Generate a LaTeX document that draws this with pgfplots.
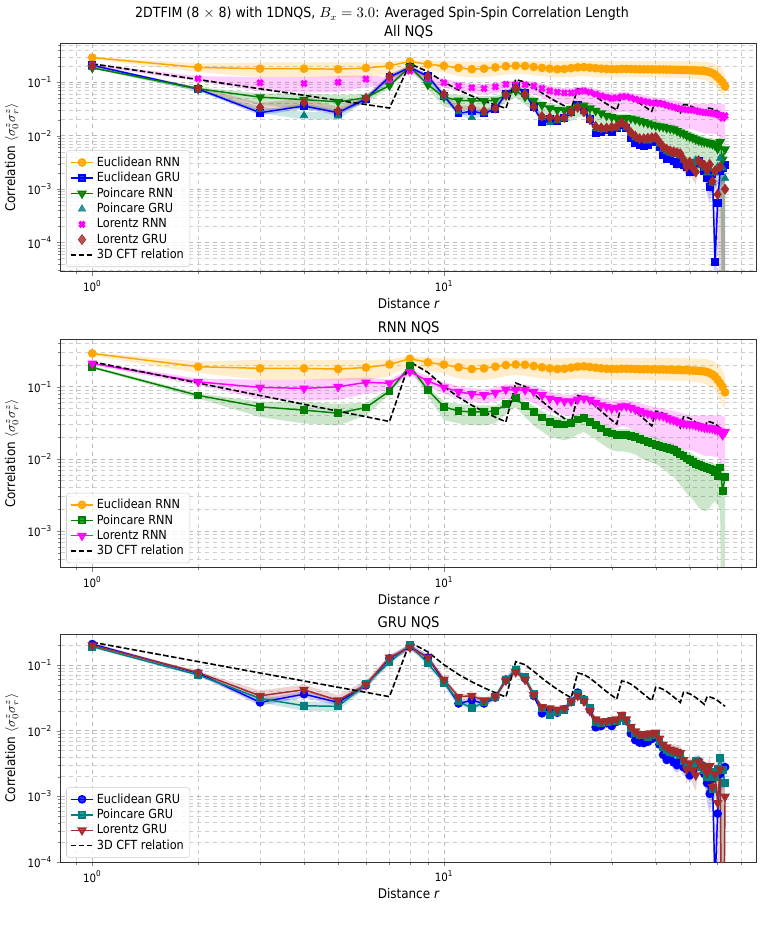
\documentclass[border=0pt]{standalone}
\usepackage{fontspec}
\setmainfont{DejaVu Sans Condensed}
\usepackage{pgfplots}
\usepackage{pgfplotstable}
\usepgfplotslibrary{fillbetween}
\pgfplotsset{compat=1.18}

\definecolor{cOrange}{HTML}{FFA500}
\definecolor{cBlue}{HTML}{0000FF}
\definecolor{cGreen}{HTML}{008000}
\definecolor{cTeal}{HTML}{008080}
\definecolor{cMagenta}{HTML}{FF00FF}
\definecolor{cBrown}{HTML}{A52A2A}

% columns: distance r, mean correlation, lower and upper edge of the spread
\pgfplotstableread{
r m lo hi
1 0.29 0.27 0.30
2 0.19 0.155 0.225
3 0.18 0.125 0.235
4 0.18 0.125 0.235
5 0.176 0.122 0.235
6 0.185 0.125 0.235
7 0.204 0.14 0.24
8 0.245 0.20 0.265
9 0.218 0.165 0.255
10 0.203 0.153 0.25
11 0.186 0.13 0.245
12 0.176 0.124 0.243
13 0.18 0.124 0.245
14 0.19 0.13 0.248
15 0.20 0.14 0.25
16 0.204 0.145 0.252
17 0.202 0.142 0.252
18 0.194 0.135 0.25
19 0.186 0.13 0.25
20 0.18 0.126 0.248
21 0.176 0.124 0.247
22 0.178 0.124 0.248
23 0.184 0.127 0.25
24 0.19 0.13 0.252
25 0.192 0.13 0.252
26 0.188 0.128 0.25
27 0.184 0.126 0.25
28 0.18 0.125 0.25
29 0.178 0.124 0.25
30 0.176 0.124 0.25
31 0.176 0.124 0.25
32 0.178 0.125 0.25
33 0.178 0.125 0.25
34 0.177 0.124 0.25
35 0.176 0.124 0.25
36 0.175 0.124 0.25
37 0.175 0.124 0.25
38 0.175 0.124 0.25
39 0.174 0.123 0.25
40 0.174 0.123 0.25
41 0.174 0.123 0.25
42 0.174 0.123 0.25
43 0.173 0.122 0.25
44 0.173 0.122 0.25
45 0.172 0.122 0.25
46 0.172 0.121 0.25
47 0.171 0.121 0.249
48 0.170 0.12 0.249
49 0.170 0.12 0.248
50 0.169 0.119 0.248
51 0.168 0.118 0.247
52 0.167 0.117 0.246
53 0.166 0.115 0.245
54 0.165 0.113 0.244
55 0.163 0.11 0.243
56 0.16 0.106 0.24
57 0.155 0.10 0.236
58 0.148 0.095 0.23
59 0.138 0.088 0.22
60 0.125 0.077 0.205
61 0.112 0.066 0.19
62 0.10 0.056 0.17
63 0.0836 0.048 0.138
}\eucRNN

\pgfplotstableread{
r m lo hi
1 0.186 0.18 0.195
2 0.0758 0.069 0.081
3 0.0527 0.038 0.062
4 0.0474 0.031 0.062
5 0.043 0.029 0.058
6 0.0516 0.04 0.06
7 0.087 0.078 0.095
8 0.194 0.18 0.205
9 0.09 0.075 0.10
10 0.0527 0.0345 0.062
11 0.0459 0.031 0.058
12 0.0449 0.0293 0.0556
13 0.0449 0.029 0.055
14 0.0459 0.031 0.055
15 0.0575 0.042 0.065
16 0.0689 0.052 0.075
17 0.0538 0.038 0.062
18 0.045 0.029 0.055
19 0.0375 0.024 0.046
20 0.0327 0.0202 0.0404
21 0.0303 0.019 0.038
22 0.030 0.0182 0.0363
23 0.0316 0.019 0.038
24 0.0352 0.022 0.042
25 0.037 0.0235 0.043
26 0.0327 0.021 0.039
27 0.0294 0.0185 0.035
28 0.0264 0.0163 0.032
29 0.0237 0.0145 0.029
30 0.0225 0.0132 0.0278
31 0.0213 0.0127 0.026
32 0.0213 0.0127 0.026
33 0.0215 0.0125 0.026
34 0.021 0.012 0.0255
35 0.0202 0.0115 0.025
36 0.019 0.0105 0.0235
37 0.018 0.0098 0.022
38 0.0172 0.0092 0.021
39 0.0163 0.0088 0.0205
40 0.0155 0.0086 0.0202
41 0.015 0.0078 0.019
42 0.0147 0.0072 0.018
43 0.014 0.0066 0.0172
44 0.0136 0.006 0.0167
45 0.0132 0.0056 0.0163
46 0.0123 0.0049 0.0152
47 0.0115 0.0043 0.0142
48 0.0109 0.0038 0.0136
49 0.0101 0.0033 0.0128
50 0.0096 0.003 0.0124
51 0.0091 0.0027 0.0115
52 0.0086 0.0024 0.011
53 0.0082 0.0021 0.0104
54 0.0079 0.002 0.0098
55 0.0077 0.0019 0.0095
56 0.0075 0.0019 0.0092
57 0.0073 0.0021 0.009
58 0.0070 0.0024 0.0088
59 0.0066 0.0026 0.0085
60 0.0057 0.0023 0.0082
61 0.0076 0.0019 0.0095
62 0.0036 0.000001 0.0068
63 0.0056 0.000001 0.0075
}\poiRNN

\pgfplotstableread{
r m lo hi
1 0.211 0.20 0.222
2 0.117 0.105 0.13
3 0.098 0.068 0.125
4 0.095 0.064 0.125
5 0.10 0.066 0.13
6 0.115 0.08 0.135
7 0.112 0.09 0.125
8 0.162 0.145 0.178
9 0.12 0.10 0.14
10 0.098 0.08 0.115
11 0.0853 0.068 0.102
12 0.0791 0.062 0.095
13 0.0766 0.059 0.092
14 0.0826 0.062 0.098
15 0.0918 0.068 0.108
16 0.09 0.066 0.108
17 0.09 0.064 0.108
18 0.0853 0.06 0.103
19 0.0766 0.052 0.094
20 0.0689 0.045 0.085
21 0.0653 0.042 0.08
22 0.0632 0.04 0.078
23 0.0632 0.039 0.078
24 0.0667 0.041 0.082
25 0.0689 0.042 0.084
26 0.0653 0.039 0.08
27 0.06 0.035 0.075
28 0.0556 0.032 0.07
29 0.0527 0.029 0.067
30 0.05 0.027 0.064
31 0.051 0.027 0.064
32 0.0538 0.028 0.066
33 0.0538 0.028 0.066
34 0.051 0.026 0.063
35 0.0484 0.025 0.062
36 0.046 0.023 0.059
37 0.044 0.022 0.057
38 0.0426 0.021 0.055
39 0.041 0.02 0.053
40 0.0404 0.019 0.052
41 0.040 0.0185 0.051
42 0.0392 0.018 0.05
43 0.037 0.017 0.048
44 0.0355 0.016 0.047
45 0.0344 0.015 0.046
46 0.033 0.0145 0.045
47 0.032 0.014 0.044
48 0.031 0.0135 0.042
49 0.0305 0.0132 0.041
50 0.0303 0.0132 0.040
51 0.030 0.013 0.040
52 0.0294 0.0125 0.040
53 0.0285 0.012 0.040
54 0.0278 0.0115 0.040
55 0.0272 0.011 0.040
56 0.027 0.011 0.040
57 0.0267 0.011 0.040
58 0.0264 0.0108 0.040
59 0.0257 0.0107 0.040
60 0.025 0.0107 0.040
61 0.024 0.0095 0.040
62 0.0213 0.0075 0.039
63 0.0237 0.0069 0.038
}\lorRNN

\pgfplotstableread{
r m lo hi
1 0.208 0.198 0.218
2 0.075 0.071 0.079
3 0.027 0.024 0.030
4 0.036 0.032 0.040
5 0.027 0.024 0.030
6 0.049 0.044 0.054
7 0.126 0.113 0.139
8 0.19 0.171 0.209
9 0.13 0.117 0.143
10 0.056 0.050 0.062
11 0.026 0.0234 0.0286
12 0.029 0.026 0.032
13 0.026 0.0234 0.0286
14 0.032 0.029 0.035
15 0.060 0.054 0.066
16 0.084 0.076 0.092
17 0.063 0.057 0.069
18 0.034 0.031 0.037
19 0.0184 0.0166 0.0202
20 0.0207 0.0186 0.0228
21 0.0188 0.0169 0.0207
22 0.0212 0.0191 0.0233
23 0.0277 0.0249 0.0305
24 0.038 0.034 0.042
25 0.030 0.027 0.033
26 0.0207 0.0186 0.0228
27 0.0113 0.0102 0.0124
28 0.0118 0.0106 0.0130
29 0.0130 0.0117 0.0143
30 0.0118 0.0106 0.0130
31 0.0137 0.0123 0.0151
32 0.0160 0.0144 0.0176
33 0.0140 0.0126 0.0154
34 0.0091 0.0082 0.0100
35 0.0072 0.0065 0.0079
36 0.0066 0.0059 0.0073
37 0.0065 0.0059 0.0072
38 0.0068 0.0061 0.0075
39 0.0075 0.0068 0.0083
40 0.0080 0.0072 0.0088
41 0.0062 0.0056 0.0068
42 0.0043 0.0039 0.0047
43 0.0036 0.0032 0.0040
44 0.0037 0.0033 0.0041
45 0.0033 0.0025 0.0041
46 0.0030 0.0023 0.0038
47 0.0033 0.0025 0.0041
48 0.0028 0.0021 0.0035
49 0.0026 0.0020 0.0033
50 0.0021 0.0016 0.0026
51 0.0025 0.0019 0.0031
52 0.0031 0.0023 0.0039
53 0.0034 0.0026 0.0043
54 0.0030 0.0023 0.0038
55 0.0022 0.0017 0.0028
56 0.0016 0.0008 0.0022
57 0.0011 0.00055 0.0016
58 0.0019 0.0010 0.0027
59 0.000044 0.000001 0.0003
60 0.00055 0.00028 0.0008
61 0.0022 0.0011 0.0031
62 0.0025 0.0013 0.0035
63 0.0028 0.0014 0.0039
}\eucGRU

\pgfplotstableread{
r m lo hi
1 0.19 0.181 0.20
2 0.0705 0.067 0.074
3 0.031 0.027 0.035
4 0.024 0.020 0.028
5 0.0235 0.020 0.027
6 0.051 0.045 0.057
7 0.11 0.099 0.121
8 0.20 0.18 0.22
9 0.106 0.095 0.117
10 0.054 0.049 0.059
11 0.028 0.025 0.031
12 0.022 0.020 0.024
13 0.027 0.024 0.030
14 0.033 0.030 0.036
15 0.060 0.054 0.066
16 0.084 0.076 0.092
17 0.065 0.059 0.072
18 0.036 0.032 0.040
19 0.022 0.020 0.024
20 0.0175 0.0158 0.0193
21 0.019 0.017 0.021
22 0.021 0.019 0.023
23 0.027 0.024 0.030
24 0.036 0.032 0.040
25 0.029 0.026 0.032
26 0.022 0.020 0.024
27 0.0135 0.0122 0.0149
28 0.013 0.0117 0.0143
29 0.0135 0.0122 0.0149
30 0.014 0.0126 0.0154
31 0.014 0.0126 0.0154
32 0.016 0.0144 0.0176
33 0.014 0.0126 0.0154
34 0.011 0.0099 0.0121
35 0.0092 0.0083 0.0101
36 0.0085 0.0077 0.0094
37 0.0085 0.0077 0.0094
38 0.008 0.0072 0.0088
39 0.0085 0.0077 0.0094
40 0.0088 0.0079 0.0097
41 0.007 0.0063 0.0077
42 0.0056 0.0050 0.0062
43 0.005 0.0045 0.0055
44 0.0047 0.0042 0.0052
45 0.0045 0.0034 0.0056
46 0.0045 0.0034 0.0056
47 0.0042 0.0032 0.0053
48 0.0035 0.0026 0.0044
49 0.003 0.0023 0.0038
50 0.0028 0.0021 0.0035
51 0.003 0.0023 0.0038
52 0.0035 0.0026 0.0044
53 0.0032 0.0024 0.0040
54 0.0028 0.0021 0.0035
55 0.0025 0.0019 0.0031
56 0.002 0.0010 0.0028
57 0.0024 0.0012 0.0034
58 0.0013 0.00065 0.0018
59 0.002 0.0010 0.0028
60 0.0026 0.0013 0.0036
61 0.0038 0.0019 0.0053
62 0.0025 0.000001 0.0040
63 0.0016 0.000001 0.0028
}\poiGRU

\pgfplotstableread{
r m lo hi
1 0.20 0.19 0.21
2 0.077 0.073 0.081
3 0.034 0.029 0.041
4 0.042 0.036 0.050
5 0.029 0.025 0.035
6 0.050 0.044 0.058
7 0.13 0.117 0.143
8 0.185 0.167 0.204
9 0.13 0.117 0.143
10 0.06 0.054 0.066
11 0.033 0.030 0.036
12 0.034 0.031 0.037
13 0.029 0.026 0.032
14 0.033 0.030 0.036
15 0.058 0.052 0.064
16 0.078 0.070 0.086
17 0.06 0.054 0.066
18 0.035 0.032 0.039
19 0.023 0.021 0.025
20 0.022 0.020 0.024
21 0.021 0.019 0.023
22 0.022 0.020 0.024
23 0.028 0.025 0.031
24 0.034 0.031 0.037
25 0.028 0.025 0.031
26 0.020 0.018 0.022
27 0.015 0.0135 0.0165
28 0.014 0.0126 0.0154
29 0.014 0.0126 0.0154
30 0.0145 0.0131 0.0160
31 0.015 0.0135 0.0165
32 0.0175 0.0158 0.0193
33 0.015 0.0135 0.0165
34 0.0115 0.0104 0.0127
35 0.0098 0.0088 0.0108
36 0.0088 0.0079 0.0097
37 0.0088 0.0079 0.0097
38 0.009 0.0081 0.0099
39 0.0092 0.0083 0.0101
40 0.0094 0.0085 0.0103
41 0.0076 0.0068 0.0084
42 0.0062 0.0056 0.0068
43 0.0056 0.0050 0.0062
44 0.0052 0.0047 0.0057
45 0.005 0.0038 0.0063
46 0.0048 0.0036 0.0060
47 0.0046 0.0035 0.0058
48 0.0036 0.0027 0.0045
49 0.0026 0.0015 0.0036
50 0.0032 0.0024 0.0040
51 0.0025 0.0015 0.0035
52 0.0021 0.0012 0.0030
53 0.0034 0.0026 0.0043
54 0.0030 0.0023 0.0038
55 0.0028 0.0021 0.0035
56 0.0023 0.0012 0.0032
57 0.0029 0.0015 0.0041
58 0.0014 0.0007 0.0020
59 0.0022 0.0011 0.0031
60 0.0008 0.0004 0.0011
61 0.0026 0.000001 0.0036
62 0.0000001 0.0000001 0.0014
63 0.001 0.000001 0.0017
}\lorGRU

% power-law reference for the 8x8 lattice, c ~ 1/d
\pgfplotstableread{
r c
1 0.222
2 0.1126
3 0.0756
4 0.0571
5 0.0458
6 0.0384
7 0.0330
8 0.222
9 0.1581
10 0.1009
11 0.0718
12 0.0554
13 0.0450
14 0.0378
15 0.0326
16 0.1126
17 0.1009
18 0.0801
19 0.0632
20 0.0512
21 0.0426
22 0.0364
23 0.0317
24 0.0756
25 0.0718
26 0.0632
27 0.0539
28 0.0458
29 0.0394
30 0.0344
31 0.0304
32 0.0571
33 0.0554
34 0.0512
35 0.0458
36 0.0406
37 0.0360
38 0.0320
39 0.0287
40 0.0458
41 0.0450
42 0.0426
43 0.0394
44 0.0360
45 0.0326
46 0.0296
47 0.0269
48 0.0384
49 0.0378
50 0.0364
51 0.0344
52 0.0320
53 0.0296
54 0.0273
55 0.0252
56 0.0330
57 0.0326
58 0.0317
59 0.0304
60 0.0287
61 0.0269
62 0.0252
63 0.0235
}\cft

\newcommand{\band}[3]{%
  \addplot[draw=none, forget plot, name path=#3lo] table[x=r, y=lo]{#1};
  \addplot[draw=none, forget plot, name path=#3hi] table[x=r, y=hi]{#1};
  \addplot[fill=#2, fill opacity=0.2, draw=none, forget plot] fill between[of=#3lo and #3hi];
}

\tikzset{cftline/.style={black, dashed, line width=1.2pt, dash pattern=on 4.2pt off 1.8pt}}

\pgfplotsset{
  every axis/.append style={
    scale only axis,
    width=522pt, height=171.2pt,
    xmin=0.813, xmax=77.5,
    clip bounding box=upper bound,
    xtick={1,10},
    xticklabels={10\textsuperscript{0},10\textsuperscript{1}},
    minor xtick={0.9,2,3,4,5,6,7,8,9,20,30,40,50,60,70},
    grid=both,
    major grid style={dashed, gray!55, line width=0.45pt},
    minor grid style={dashed, gray!40, line width=0.45pt},
    tick align=outside, tick pos=left,
    major tick length=3pt, minor tick length=1.8pt,
    axis line style={line width=0.6pt, black!80},
    tick label style={font=\fontsize{8.6}{10}\selectfont},
    label style={font=\fontsize{10}{12}\selectfont},
    title style={font=\fontsize{11}{13}\selectfont, yshift=-6pt},
    xlabel={Distance \textit{r}},
    ylabel={Correlation $\langle\sigma_0^z\sigma_r^z\rangle$},
    xlabel style={yshift=2pt},
    legend cell align=left,
    legend style={at={(0.008,0.02)}, anchor=south west,
      font=\fontsize{9.4}{11}\selectfont,
      draw=black!20, fill=white, fill opacity=0.8, text opacity=1,
      rounded corners=2pt, inner sep=2.5pt, row sep=-1pt},
  },
}

\begin{document}
\begin{tikzpicture}
\node[font=\fontsize{10.5}{12}\selectfont] at (286.5pt,-10.5pt)
  {2DTFIM (8 $\times$ 8) with 1DNQS, $B_x = 3.0$: Averaged Spin-Spin Correlation Length};

% ---------- all models ----------
\begin{loglogaxis}[at={(45.5pt,-32.5pt)}, anchor=north west,
  title={All NQS},
  ymin=2.87e-5, ymax=0.536,
  ytick={1e-4,1e-3,1e-2,1e-1},
  yticklabels={10\textsuperscript{−4},10\textsuperscript{−3},10\textsuperscript{−2},10\textsuperscript{−1}},
  minor ytick={3e-5,4e-5,5e-5,6e-5,7e-5,8e-5,9e-5,2e-4,3e-4,4e-4,5e-4,6e-4,7e-4,8e-4,9e-4,2e-3,3e-3,4e-3,5e-3,6e-3,7e-3,8e-3,9e-3,2e-2,3e-2,4e-2,5e-2,6e-2,7e-2,8e-2,9e-2,2e-1,3e-1,4e-1,5e-1},
]
\band{\eucRNN}{cOrange}{aA}
\band{\eucGRU}{cBlue}{aB}
\band{\poiRNN}{cGreen}{aC}
\band{\poiGRU}{cTeal}{aD}
\band{\lorRNN}{cMagenta}{aE}
\band{\lorGRU}{cBrown}{aF}
\addplot[cOrange, line width=1.1pt, mark=*, mark size=2.7pt, mark options={solid}] table[x=r, y=m]{\eucRNN};
\addlegendentry{Euclidean RNN}
\addplot[cBlue, line width=1.1pt, mark=square*, mark size=2.4pt, mark options={solid}] table[x=r, y=m]{\eucGRU};
\addlegendentry{Euclidean GRU}
\addplot[cGreen, line width=1.1pt, mark=triangle*, mark size=3.2pt, mark options={solid, rotate=180}] table[x=r, y=m]{\poiRNN};
\addlegendentry{Poincare RNN}
\addplot[cTeal, only marks, mark=triangle*, mark size=3.2pt] table[x=r, y=m]{\poiGRU};
\addlegendentry{Poincare GRU}
\addplot[cMagenta, only marks, mark=x, mark size=2.8pt, mark options={line width=2.3pt}] table[x=r, y=m]{\lorRNN};
\addlegendentry{Lorentz RNN}
\addplot[cBrown, only marks, mark=diamond*, mark size=3.8pt] table[x=r, y=m]{\lorGRU};
\addlegendentry{Lorentz GRU}
\addplot[cftline] table[x=r, y=c]{\cft};
\addlegendentry{3D CFT relation}
\end{loglogaxis}

% ---------- recurrent models ----------
\begin{loglogaxis}[at={(45.5pt,-254.5pt)}, anchor=north west,
  title={RNN NQS},
  ymin=3.1e-4, ymax=0.455,
  ytick={1e-3,1e-2,1e-1},
  yticklabels={10\textsuperscript{−3},10\textsuperscript{−2},10\textsuperscript{−1}},
  minor ytick={4e-4,5e-4,6e-4,7e-4,8e-4,9e-4,2e-3,3e-3,4e-3,5e-3,6e-3,7e-3,8e-3,9e-3,2e-2,3e-2,4e-2,5e-2,6e-2,7e-2,8e-2,9e-2,2e-1,3e-1,4e-1},
]
\band{\eucRNN}{cOrange}{bA}
\band{\poiRNN}{cGreen}{bB}
\band{\lorRNN}{cMagenta}{bC}
\addplot[cOrange, line width=1.1pt, mark=*, mark size=2.7pt, mark options={solid}] table[x=r, y=m]{\eucRNN};
\addlegendentry{Euclidean RNN}
\addplot[cGreen, line width=1.1pt, mark=square*, mark size=2.4pt, mark options={solid}] table[x=r, y=m]{\poiRNN};
\addlegendentry{Poincare RNN}
\addplot[cMagenta, line width=1.1pt, mark=triangle*, mark size=3.2pt, mark options={solid, rotate=180}] table[x=r, y=m]{\lorRNN};
\addlegendentry{Lorentz RNN}
\addplot[cftline] table[x=r, y=c]{\cft};
\addlegendentry{3D CFT relation}
\end{loglogaxis}

% ---------- gated models ----------
\begin{loglogaxis}[at={(45.5pt,-475.5pt)}, anchor=north west,
  title={GRU NQS},
  ymin=1e-4, ymax=0.296,
  ytick={1e-4,1e-3,1e-2,1e-1},
  yticklabels={10\textsuperscript{−4},10\textsuperscript{−3},10\textsuperscript{−2},10\textsuperscript{−1}},
  minor ytick={2e-4,3e-4,4e-4,5e-4,6e-4,7e-4,8e-4,9e-4,2e-3,3e-3,4e-3,5e-3,6e-3,7e-3,8e-3,9e-3,2e-2,3e-2,4e-2,5e-2,6e-2,7e-2,8e-2,9e-2,2e-1},
]
\band{\eucGRU}{cBlue}{cA}
\band{\poiGRU}{cTeal}{cB}
\band{\lorGRU}{cBrown}{cC}
\addplot[cBlue, line width=1.1pt, mark=*, mark size=2.7pt, mark options={solid}] table[x=r, y=m]{\eucGRU};
\addlegendentry{Euclidean GRU}
\addplot[cTeal, line width=1.1pt, mark=square*, mark size=2.4pt, mark options={solid}] table[x=r, y=m]{\poiGRU};
\addlegendentry{Poincare GRU}
\addplot[cBrown, line width=1.1pt, mark=triangle*, mark size=3.2pt, mark options={solid, rotate=180}] table[x=r, y=m]{\lorGRU};
\addlegendentry{Lorentz GRU}
\addplot[cftline] table[x=r, y=c]{\cft};
\addlegendentry{3D CFT relation}
\end{loglogaxis}

% page extent
\path (0,0) rectangle (573pt,-700.5pt);
\end{tikzpicture}
\end{document}
